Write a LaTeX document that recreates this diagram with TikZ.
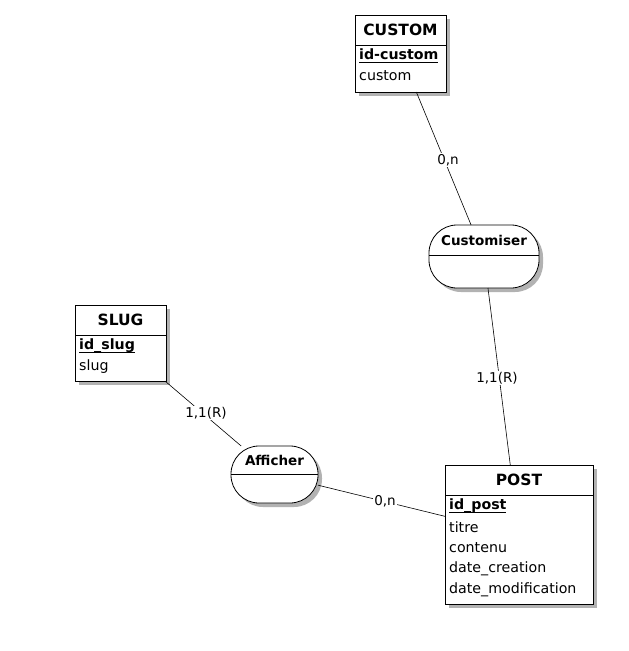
\documentclass[tikz,border=0pt]{standalone}
\usepackage{fontspec}
\setmainfont{DejaVu Sans}
\usetikzlibrary{shadows}
\tikzset{
  box/.style={draw, line width=0.8pt, fill=white, inner sep=0pt, outer sep=0pt,
    drop shadow={shadow xshift=4pt, shadow yshift=-4pt, fill=black!30, opacity=1}},
  ent/.style={box},
  rel/.style={box, rounded corners=28pt},
  sep/.style={line width=0.8pt},
  ttl/.style={font=\fontsize{15.5}{17}\selectfont\bfseries, inner sep=0pt},
  rttl/.style={font=\fontsize{13.5}{15}\selectfont\bfseries, inner sep=0pt},
  att/.style={font=\fontsize{14.2}{16}\selectfont, anchor=west, inner sep=0pt},
  lbl/.style={fill=white, font=\fontsize{13.5}{15}\selectfont, inner sep=1pt},
  link/.style={line width=0.6pt}
}
\newcommand{\keyattr}[1]{\textbf{#1}\llap{\rule[-3pt]{\widthof{\textbf{#1}}}{1.1pt}}}
\usepackage{calc}
\begin{document}
\begin{tikzpicture}[x=1pt,y=-1pt]
\useasboundingbox[fill=white] (0,0) rectangle (629,651);

% CUSTOM
\node[ent, minimum width=91pt, minimum height=77pt] (custom) at (400.5,53.5) {};
\draw[sep] (custom.west |- 0,45) -- (custom.east |- 0,45);
\node[ttl] (customT) at (400.5,30) {CUSTOM};
\node[att] (customA1) at (359,56) {\keyattr{id-custom}};
\node[att] (customA2) at (359,76) {custom};

% Customiser
\node[rel, minimum width=110pt, minimum height=63pt] (customiser) at (484,256.5) {};
\draw[sep] (customiser.west |- 0,255) -- (customiser.east |- 0,255);
\node[rttl] (customiserT) at (484,240) {Customiser};

% SLUG
\node[ent, minimum width=91pt, minimum height=76pt] (slug) at (120.5,343) {};
\draw[sep] (slug.west |- 0,335) -- (slug.east |- 0,335);
\node[ttl] (slugT) at (120.5,320) {SLUG};
\node[att] (slugA1) at (79,346) {\keyattr{id\_slug}};
\node[att] (slugA2) at (79,367) {slug};

% Afficher
\node[rel, minimum width=87pt, minimum height=57pt] (afficher) at (274.5,474.5) {};
\draw[sep] (afficher.west |- 0,474) -- (afficher.east |- 0,474);
\node[rttl] (afficherT) at (274.5,460) {Afficher};

% POST
\node[ent, minimum width=148pt, minimum height=139pt] (post) at (519,534.5) {};
\draw[sep] (post.west |- 0,495) -- (post.east |- 0,495);
\node[ttl] (postT) at (519,480) {POST};
\node[att] (postA1) at (449,506) {\keyattr{id\_post}};
\node[att] (postA2) at (449,527) {titre};
\node[att] (postA3) at (449,548) {contenu};
\node[att] (postA4) at (449,569) {date\_creation};
\node[att] (postA5) at (449,590) {date\_modification};

% links
\draw[link] (custom) -- (customiser);
\draw[link] (customiser) -- (post);
\draw[link] (slug) -- (afficher);
\draw[link] (afficher) -- (post);

% cardinalities
\node[lbl] (l1) at (448,160) {0,n};
\node[lbl] (l2) at (497,378) {1,1(R)};
\node[lbl] (l3) at (206,413) {1,1(R)};
\node[lbl] (l4) at (385,501) {0,n};
\end{tikzpicture}
\end{document}
